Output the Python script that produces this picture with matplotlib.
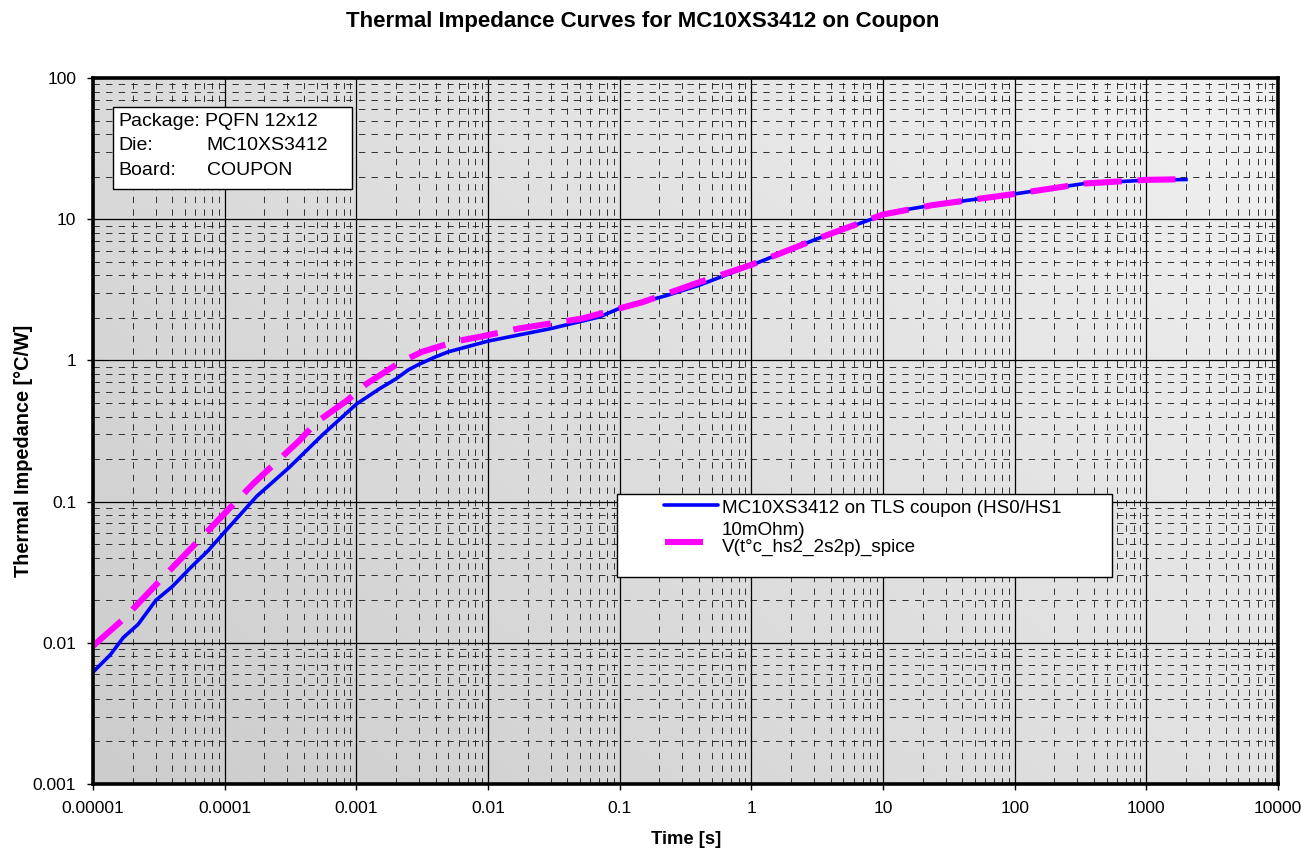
import matplotlib
matplotlib.use("Agg")
import matplotlib.pyplot as plt
import numpy as np
from matplotlib.patches import Rectangle
from matplotlib.lines import Line2D
from matplotlib.ticker import LogLocator, FixedLocator, FixedFormatter, NullFormatter

plt.rcParams['font.family'] = ['Liberation Sans', 'DejaVu Sans']

# measured curve (HS0/HS1 on TLS coupon)
t_meas = [1e-5, 1.35e-5, 1.7e-5, 2.2e-5, 3e-5, 4e-5, 5.5e-5, 7.5e-5, 1e-4, 1.3e-4, 1.75e-4,
          3.1e-4, 5.6e-4, 1e-3, 1.5e-3, 2e-3, 2.5e-3, 3e-3, 4e-3, 5e-3, 1e-2, 3e-2, 7e-2,
          0.1, 0.23, 0.4, 1, 3.2, 10, 13.5, 24, 100, 340, 1000, 2000]
z_meas = [0.0062, 0.0082, 0.0109, 0.0135, 0.020, 0.025, 0.034, 0.045, 0.061, 0.080, 0.109,
          0.175, 0.30, 0.49, 0.63, 0.74, 0.86, 0.94, 1.06, 1.15, 1.37, 1.68, 2.03,
          2.34, 2.89, 3.4, 4.72, 7.3, 10.7, 11.5, 12.6, 15.1, 17.9, 18.9, 19.1]

# spice model curve
t_spice = [1e-5, 1.7e-5, 3.6e-5, 7.7e-5, 1.65e-4, 3.7e-4, 5e-4, 8.5e-4, 1.2e-3, 2.1e-3,
           3.15e-3, 5.8e-3, 9e-3, 0.017, 0.052, 0.15, 0.41, 1, 3.2, 10, 24, 100, 340,
           1000, 2000]
z_spice = [0.0095, 0.0147, 0.0307, 0.064, 0.134, 0.271, 0.366, 0.52, 0.684, 0.957,
           1.15, 1.37, 1.48, 1.68, 1.98, 2.59, 3.6, 4.75, 7.3, 10.8, 12.6, 15.1, 17.9,
           19.0, 19.2]

x_ticks = [1e-5, 1e-4, 1e-3, 1e-2, 1e-1, 1, 10, 100, 1000, 10000]
x_labels = ["0.00001", "0.0001", "0.001", "0.01", "0.1", "1", "10", "100", "1000", "10000"]
y_ticks = [0.001, 0.01, 0.1, 1, 10, 100]
y_labels = ["0.001", "0.01", "0.1", "1", "10", "100"]

W, H = 1301, 850
fig = plt.figure(figsize=(W / 100, H / 100), dpi=100)
fig.patch.set_facecolor("white")

def fx(px):
    return px / W

def fy(py):
    return 1 - py / H

ax = fig.add_axes([fx(93), fy(784), (1278 - 93) / W, (784 - 78) / H])
ax.set_xscale("log")
ax.set_yscale("log")
ax.set_xlim(1e-5, 1e4)
ax.set_ylim(1e-3, 100)

# diagonal gray gradient background, darker bottom-left, lighter top-right
gx, gy = np.meshgrid(np.linspace(0, 1, 200), np.linspace(0, 1, 200))
shade = 0.80 + 0.145 * (gx * 0.6 + gy * 0.4)
rgb = np.dstack([shade, shade, shade])
ax.imshow(rgb, extent=[0, 1, 0, 1], transform=ax.transAxes, origin="lower",
          aspect="auto", zorder=0, interpolation="bilinear")

ax.xaxis.set_major_locator(FixedLocator(x_ticks))
ax.xaxis.set_major_formatter(FixedFormatter(x_labels))
ax.yaxis.set_major_locator(FixedLocator(y_ticks))
ax.yaxis.set_major_formatter(FixedFormatter(y_labels))
ax.xaxis.set_minor_locator(LogLocator(base=10, subs=np.arange(2, 10), numticks=20))
ax.yaxis.set_minor_locator(LogLocator(base=10, subs=np.arange(2, 10), numticks=20))
ax.xaxis.set_minor_formatter(NullFormatter())
ax.yaxis.set_minor_formatter(NullFormatter())

ax.grid(which="major", color="black", linewidth=0.9, linestyle="-", zorder=1)
ax.grid(which="minor", color="#222222", linewidth=0.65, linestyle=(0, (7, 7)), zorder=1)
ax.set_axisbelow(True)

ax.tick_params(which="major", direction="out", length=4, width=1, labelsize=12.5, pad=8)
ax.tick_params(which="minor", length=0)
for sp in ax.spines.values():
    sp.set_linewidth(2.6)
    sp.set_color("black")
    sp.set_zorder(5)

ax.plot(t_meas, z_meas, color="#0000ff", linewidth=2.6, zorder=3)
ax.plot(t_spice, z_spice, color="#ff00ff", linewidth=4.4, linestyle=(0, (6.2, 2.6)),
        zorder=4)

# titles
fig.text(fx(643), fy(22), "Thermal Impedance Curves for MC10XS3412 on Coupon",
         ha="center", va="center", fontsize=16, fontweight="bold")
fig.text(fx(686), fy(840), "Time [s]", ha="center", va="center", fontsize=13.3,
         fontweight="bold")
fig.text(fx(24), fy(451), "Thermal Impedance [°C/W]", ha="center", va="center",
         rotation=90, fontsize=14.3, fontweight="bold")

# info box
fig.add_artist(Rectangle((fx(113), fy(189)), (352 - 113) / W, (189 - 107) / H,
                         transform=fig.transFigure, facecolor="white", edgecolor="black",
                         linewidth=1, zorder=6))
info_keys = ["Package:", "Die:", "Board:"]
info_vals = ["PQFN 12x12", "MC10XS3412", "COUPON"]
info_vx = [205, 206, 207]
info_base = [126, 150.5, 175]
for k, v, vx, yb in zip(info_keys, info_vals, info_vx, info_base):
    fig.text(fx(118), fy(yb), k, ha="left", va="baseline", fontsize=14, zorder=7)
    fig.text(fx(vx), fy(yb), v, ha="left", va="baseline", fontsize=14, zorder=7)

# legend box
fig.add_artist(Rectangle((fx(617), fy(577)), (1112 - 617) / W, (577 - 494) / H,
                         transform=fig.transFigure, facecolor="white", edgecolor="black",
                         linewidth=1, zorder=6))
fig.add_artist(Line2D([fx(664), fx(718)], [fy(505), fy(505)], transform=fig.transFigure,
                      color="#0000ff", linewidth=2.6, solid_capstyle="round", zorder=7))
fig.add_artist(Line2D([fx(665), fx(703)], [fy(542), fy(542)], transform=fig.transFigure,
                      color="#ff00ff", linewidth=4.4, solid_capstyle="butt", zorder=7))
fig.text(fx(722), fy(513), "MC10XS3412 on TLS coupon (HS0/HS1", ha="left", va="baseline",
         fontsize=13.6, zorder=7)
fig.text(fx(722), fy(535), "10mOhm)", ha="left", va="baseline", fontsize=13.6, zorder=7)
fig.text(fx(722), fy(552), "V(t°c_hs2_2s2p)_spice", ha="left", va="baseline",
         fontsize=13.6, zorder=7)

fig.savefig("out.png", dpi=100)
